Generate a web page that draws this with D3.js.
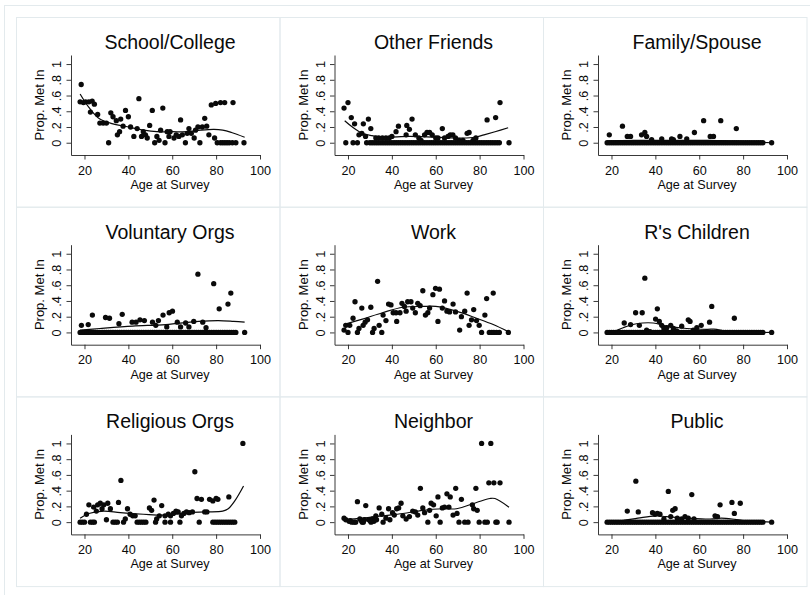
<!DOCTYPE html>
<html>
<head>
<meta charset="utf-8">
<script src="https://cdn.jsdelivr.net/npm/d3@7/dist/d3.min.js"></script>
<style>
  body { margin: 0; background: #fff; }
  svg { display: block; font-family: "Liberation Sans", Arial, sans-serif; }
</style>
</head>
<body>
<div id="plotspace"></div>
<script>
// panel titles, row by row
var titles = ["School/College", "Other Friends", "Family/Spouse",
              "Voluntary Orgs", "Work", "R's Children",
              "Religious Orgs", "Neighbor", "Public"];

var xTicks = [20, 40, 60, 80, 100];
var yTicks = [0, 0.2, 0.4, 0.6, 0.8, 1];
var yTickLabels = ["0", ".2", ".4", ".6", ".8", "1"];
var xTitle = "Age at Survey";
var yTitle = "Prop. Met In";

// ages where the zero band is complete
var fullAges = [18,19,20,21,22,23,24,25,26,27,28,29,30,31,32,33,34,35,36,37,38,39,40,41,42,43,44,45,46,47,48,49,50,
  51,52,53,54,55,56,57,58,59,60,61,62,63,64,65,66,67,68,69,70,71,72,73,74,75,76,77,78,79,80,81,82,83,84,85,86,87,88,89,93];

// School/College
var schoolPts = [[18.5,.74],[18,.52],[19.5,.51],[20.5,.52],[22,.52],[23.5,.53],[24.5,.49],[22.7,.39],[26,.36],[27,.25],
  [28.5,.25],[30,.25],[32,.38],[33,.33],[34.5,.28],[35,.1],[36,.14],[36.5,.3],[37.6,.21],[38.7,.41],[40,.33],[41,.2],
  [42.5,.08],[44,.18],[44.8,.56],[46,.08],[46.8,.14],[47.8,.1],[48.6,.06],[49.7,.22],[50.9,.41],[53,.08],[54,.03],
  [54.7,.16],[55.7,.44],[57.7,.14],[59,.14],[58.5,.08],[60.8,.06],[61.8,.1],[63,.08],[63.8,.29],[64.6,.1],[66.8,.12],
  [67.6,.18],[68.7,.12],[70,.06],[70.6,.16],[71.7,.2],[73.7,.2],[74.8,.31],[75.7,.21],[76.7,.1],[77.8,.48],[79.8,.5],
  [82,.51],[83.9,.51],[87.7,.51],[79.3,.06]];
var schoolZeros = [31,52,56.7,66,72.6,80.5,82,83,84,85,86,87.4,89,92.7];
var schoolFit = [[18,.62],[22,.45],[27,.3],[33,.24],[40,.2],[47,.16],[53,.14],[60,.14],[67,.14],[73,.16],[79,.17],
  [83,.16],[87,.13],[93,.07]];

// Other Friends
var friendsPts = [[18.2,.44],[20,.51],[21.5,.32],[23,.24],[25,.1],[26.3,.12],[27,.24],[28,.08],[29.3,.3],[30.4,.18],
  [32.7,.06],[34,.06],[35.7,.06],[37.3,.06],[38.8,.06],[40,.08],[41.9,.14],[43,.21],[46.5,.1],[46.8,.22],[48,.17],
  [49.2,.3],[50.7,.1],[52.3,.06],[53.3,.03],[54.9,.1],[56,.13],[57.2,.13],[58.4,.1],[60,.06],[61,.06],[63,.18],[64,.06],
  [65.6,.08],[66.6,.1],[67.8,.1],[69,.06],[70.6,.03],[72.4,.03],[74.3,.12],[75.2,.13],[77,.03],[78.3,.06],[83.4,.29],
  [87.3,.32],[89.3,.51]];
var friendsZeros = [19,22.3,24.3,28.5,30,31,32,33,34,35,36,37,38,39,40,41,42,43,44,45,46,47,48,49,50,51,52,53,54,55,56,
  57,58,59,60,61,62,63,64,65,66,67,68,69,70,71,72,73,74,75,76,77,78,79,80,81,82,83,84,85,86,87,88,89,93.4];
var friendsFit = [[18.5,.28],[22,.2],[26.6,.12],[31,.09],[36,.07],[48,.08],[60,.07],[72,.06],[78,.07],[82,.1],[87,.14],[93,.19]];

// Family/Spouse
var familyPts = [[19,.1],[25,.21],[27.2,.08],[28.7,.08],[33.7,.1],[35.2,.13],[36,.08],[38.3,.04],[42.9,.05],[47.4,.05],
  [48.2,.04],[51.2,.08],[54.3,.05],[57.8,.13],[62,.28],[65,.08],[66.5,.08],[69.8,.28],[76.9,.18]];
var familyFit = [[18,.02],[30,.03],[50,.03],[65,.03],[75,.02],[93,.0]];

// Voluntary Orgs
var volPts = [[18.6,.09],[21.7,.1],[23.6,.22],[29.6,.19],[31.4,.18],[35.7,.11],[37.2,.23],[41.7,.13],[43.5,.13],
  [45.3,.16],[47.3,.15],[51,.13],[52.5,.09],[53.7,.15],[55.8,.22],[57.5,.07],[58.6,.25],[60.1,.27],[62.3,.13],[63.8,.07],
  [66.1,.12],[67.6,.07],[69.8,.14],[71.7,.74],[73.9,.13],[75.4,.06],[78.9,.62],[81.4,.3],[85.4,.36],[86.7,.5]];
var volFit = [[18,.03],[27,.05],[42,.08],[57,.1],[72,.14],[81,.15],[88,.14],[93,.13]];

// Work
var workPts = [[18.2,.03],[19,.09],[20.8,.09],[22.3,.18],[23.2,.39],[25,.05],[26.3,.31],[26.9,.09],[27.8,.13],[28.9,.16],
  [30.4,.32],[31.9,.05],[33.5,.65],[34.2,.09],[36,.22],[37.3,.15],[38.5,.36],[39.6,.35],[40.6,.25],[41.9,.25],[42.2,.14],
  [43.7,.25],[44.6,.37],[45.7,.33],[46.5,.27],[47.2,.39],[48.7,.39],[49.5,.31],[50.7,.25],[51.8,.37],[52.9,.34],
  [54.1,.53],[55.3,.22],[56.4,.25],[57.2,.31],[58.7,.48],[59.9,.56],[61,.14],[61.7,.55],[63,.31],[64,.4],[65.1,.27],
  [66.3,.26],[67.9,.36],[69,.26],[70.9,.03],[71.7,.2],[73.2,.27],[74.3,.5],[75.2,.09],[76.3,.16],[77.3,.29],[78.6,.15],
  [79.8,.09],[82.4,.22],[83.2,.43],[86.2,.5]];
var workZeros = [20,24.3,31.2,35.4,80.9,84.4,85.5,86.5,87.7,89,93.1];
var workFit = [[18,.1],[26.6,.17],[35.7,.25],[45,.32],[54,.33],[60,.33],[69.4,.27],[78.6,.18],[86.2,.1],[93,.01]];

// R's Children
var childPts = [[25.8,.12],[28.7,.1],[31,.25],[32.7,.09],[34,.25],[35.2,.69],[36,.03],[37.5,.01],[40.1,.17],[40.9,.3],
  [41.8,.14],[42.9,.09],[43.9,.05],[45.2,.06],[47,.09],[48.2,.05],[49.7,.02],[52,.08],[55,.16],[55.8,.14],[57.3,.03],
  [58.9,.06],[60.9,.09],[64.7,.13],[65.7,.33],[76,.18]];
var childFit = [[18,.0],[21,.01],[25.3,.06],[31.4,.11],[39,.12],[45.2,.08],[54.3,.05],[63.4,.04],[68,.04],[72.6,.01],[80,0],[93,0]];

// Religious Orgs
var relPts = [[20.9,.1],[22,.22],[24.2,.19],[25.4,.14],[26,.22],[27.2,.24],[28,.17],[28.8,.22],[30,.03],[30.6,.24],
  [31.8,.17],[35.5,.25],[36.6,.53],[38.6,.04],[39.6,.17],[40.8,.1],[42,.08],[43.1,.08],[49.6,.18],[50.6,.15],[51.7,.28],
  [52.9,.04],[54.1,.08],[55.2,.21],[56.7,.08],[58.2,.1],[59.2,.08],[60.5,.11],[61.7,.14],[62.7,.13],[64.2,.08],
  [65.3,.11],[66.5,.13],[67.7,.12],[69.2,.13],[70.3,.64],[71.3,.3],[73.3,.29],[74.8,.13],[75.8,.13],[77,.29],[78.5,.27],
  [80,.3],[80.8,.29],[85.8,.32],[92.2,1]];
var relZeros = [18,19,20,22.7,23.7,24.5,33,34,35,37.8,44,45,46,47,48,52.4,56.7,59.2,63.5,72.3,78.5,79.5,80.5,81.5,82.5,
  83.5,84.5,85.5,86.5,87.5,88.5];
var relFit = [[18,.05],[22,.11],[28.8,.14],[36.3,.12],[46.9,.1],[57.4,.09],[66.5,.12],[75.5,.13],[83,.14],[85.5,.17],
  [88.5,.27],[92.5,.46]];

// Neighbor
var neighPts = [[18.2,.05],[19,.03],[20.5,.01],[21,.02],[24.3,.26],[25.4,.04],[26,.02],[27.5,.03],[28.1,.21],[29.6,.03],
  [30,.02],[31.2,.04],[31.8,.01],[32.7,.08],[33,.03],[34.2,.18],[35.4,.1],[37.3,.05],[38.5,.17],[39.1,.03],[40.3,.12],
  [41.1,.09],[42.2,.17],[43.1,.18],[44.2,.24],[45,.08],[46.5,.04],[48,.07],[49.5,.14],[50.7,.13],[51.8,.09],[53,.43],
  [54.1,.18],[54.9,.12],[57.2,.15],[57.9,.24],[59,.22],[60.2,.08],[61,.32],[63,.18],[64,.19],[65.1,.36],[66,.19],
  [66.6,.32],[67.9,.09],[69.1,.43],[69.7,.11],[71.7,.29],[76.7,.22],[77.3,.17],[78.3,.43],[78.9,.15],[80.9,1],[84.2,.5],
  [85.1,1],[86.5,.5],[89.3,.5]];
var neighZeros = [21.7,22.8,23.5,26.5,27,30.5,36,56.4,62,70.6,73.2,74.7,79.8,82.4,83.5,87.4,88,93.4];
var neighFit = [[18,.03],[26.6,.05],[35.7,.08],[45,.11],[54.1,.15],[63.3,.17],[69.4,.17],[78.6,.25],[84.7,.3],[87,.3],[93.4,.19]];

// Public
var publicPts = [[27.2,.14],[31.1,.52],[32.2,.13],[38.7,.12],[39.8,.1],[40.9,.11],[42.1,.1],[43.9,.04],[45.9,.39],
  [47,.07],[47.9,.15],[49,.17],[50,.05],[52,.04],[53.5,.07],[55,.05],[56.6,.35],[57.6,.04],[67.2,.08],[68.3,.07],
  [69.5,.22],[74.9,.25],[76,.11],[78.7,.24]];
var publicFit = [[18,.01],[25,.02],[32,.05],[40,.08],[45,.07],[55,.05],[65,.04],[70,.05],[75,.04],[80,.02],[93,0]];

var panels = [
  {pts: schoolPts, zeros: schoolZeros, fit: schoolFit},
  {pts: friendsPts, zeros: friendsZeros, fit: friendsFit},
  {pts: familyPts, zeros: fullAges, fit: familyFit},
  {pts: volPts, zeros: fullAges, fit: volFit},
  {pts: workPts, zeros: workZeros, fit: workFit},
  {pts: childPts, zeros: fullAges, fit: childFit},
  {pts: relPts, zeros: relZeros, fit: relFit},
  {pts: neighPts, zeros: neighZeros, fit: neighFit},
  {pts: publicPts, zeros: fullAges, fit: publicFit}
];

var width = 810, height = 595;
var colStep = 263.5, rowStep = 189.7;
var frameColor = "#e3eaed";
var ink = "#0a0a0a";

var svg = d3.select("#plotspace").
    append("svg").
    attr("width", width).
    attr("height", height);

svg.append("rect").attr("width", width).attr("height", height).attr("fill", "#fff");

// outer frame of the combined graph
svg.append("rect").
    attr("x", 4.5).attr("y", 5.5).
    attr("width", 820).attr("height", 620).
    attr("fill", "none").attr("stroke", frameColor);

panels.forEach(function(p, i) {
    var ox = (i % 3) * colStep, oy = Math.floor(i / 3) * rowStep;
    var g = svg.append("g").attr("transform", "translate(" + ox + "," + oy + ")");

    // panel border
    g.append("rect").
        attr("x", 16.5).attr("y", 17.5).
        attr("width", colStep).attr("height", rowStep).
        attr("fill", "none").attr("stroke", frameColor);

    // plot region spans a bit past the data range, as in Stata
    var x = d3.scaleLinear().domain([13.85, 100]).range([71, 260]);
    var y = d3.scaleLinear().domain([-0.156, 1.115]).range([155, 55]);

    var xa = g.append("g").
        attr("transform", "translate(0,155)").
        call(d3.axisBottom(x).tickValues(xTicks).tickSize(4.5).tickSizeOuter(0).tickPadding(6.2));
    var ya = g.append("g").
        attr("transform", "translate(71,0)").
        call(d3.axisLeft(y).tickValues(yTicks).tickSize(4.5).tickSizeOuter(0).
             tickFormat(function(d, k) { return yTickLabels[k]; }));

    [xa, ya].forEach(function(a) {
        a.attr("font-family", null).attr("font-size", 12.6);
        a.selectAll("path, line").attr("stroke", "#222").attr("stroke-width", 0.9);
        a.selectAll("text").attr("fill", ink);
    });
    ya.selectAll("text").
        attr("transform", "rotate(-90)").
        attr("x", 0).attr("y", -10).attr("dy", 0).
        attr("text-anchor", "middle");

    g.append("text").
        attr("x", 170).attr("y", 49).
        attr("text-anchor", "middle").
        attr("font-size", 19.5).attr("fill", ink).
        text(titles[i]);
    g.append("text").
        attr("x", 170).attr("y", 189).
        attr("text-anchor", "middle").
        attr("font-size", 12.6).attr("fill", ink).
        text(xTitle);
    g.append("text").
        attr("transform", "translate(44,105) rotate(-90)").
        attr("text-anchor", "middle").
        attr("font-size", 13).attr("fill", ink).
        text(yTitle);

    var all = p.pts.concat(p.zeros.map(function(a) { return [a, 0]; }));
    g.selectAll("circle").
        data(all).
        enter().append("circle").
        attr("cx", function(d) { return x(d[0]); }).
        attr("cy", function(d) { return y(d[1]); }).
        attr("r", 2.65).
        attr("fill", ink);

    var line = d3.line().
        x(function(d) { return x(d[0]); }).
        y(function(d) { return y(d[1]); }).
        curve(d3.curveCatmullRom.alpha(0.5));
    g.append("path").
        attr("d", line(p.fit)).
        attr("fill", "none").
        attr("stroke", ink).
        attr("stroke-width", 1.2);
});
</script>
</body>
</html>
